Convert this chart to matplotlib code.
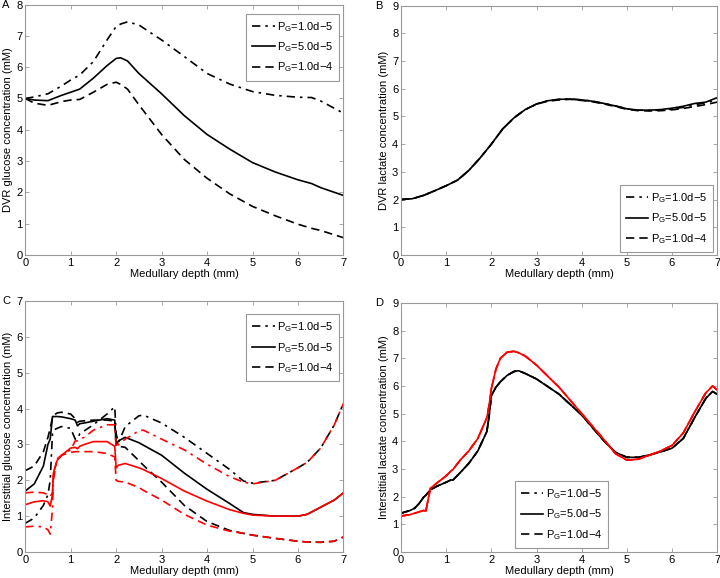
"""
Glucose / lactate concentration profiles along the medulla (4 panels)
"""

import matplotlib
matplotlib.use('Agg')
import matplotlib.pyplot as plt

plt.rcParams['font.family'] = ['Liberation Sans', 'DejaVu Sans']
plt.rcParams['mathtext.default'] = 'regular'
plt.rcParams['font.size'] = 8

legend_labels = ['P$_G$=1.0d\u22125', 'P$_G$=5.0d\u22125', 'P$_G$=1.0d\u22124']

# Panel A: DVR glucose
a_x = [0, 0.2, 0.5, 0.8, 1.0, 1.2, 1.5, 1.8, 2.0, 2.1, 2.25, 2.5, 3, 3.5, 4, 4.5, 5, 5.5, 6, 6.3, 6.5, 7]
a_dashdot = [5.0, 5.05, 5.15, 5.4, 5.59, 5.75, 6.18, 6.87, 7.3, 7.38, 7.45, 7.35, 6.87, 6.34, 5.8,
             5.46, 5.22, 5.1, 5.04, 5.03, 4.92, 4.53]
a_solid = [5.0, 4.95, 4.93, 5.1, 5.2, 5.3, 5.65, 6.05, 6.28, 6.3, 6.2, 5.8, 5.15, 4.45, 3.85,
           3.38, 2.95, 2.65, 2.4, 2.28, 2.15, 1.9]
a_dashed = [5.0, 4.85, 4.78, 4.9, 4.95, 4.97, 5.2, 5.45, 5.52, 5.45, 5.3, 4.8, 3.85, 3.05, 2.45,
            1.95, 1.55, 1.25, 0.98, 0.85, 0.78, 0.55]

# Panel B: DVR lactate
b_x = [0, 0.25, 0.5, 0.75, 1.0, 1.25, 1.5, 1.75, 2.0, 2.25, 2.5, 2.75, 3.0, 3.25, 3.5, 3.75, 4.0,
       4.25, 4.5, 4.75, 5.0, 5.25, 5.5, 5.75, 6.0, 6.25, 6.5, 6.75, 7.0]
b_dashdot = [2.0, 2.03, 2.15, 2.32, 2.5, 2.7, 3.05, 3.5, 4.0, 4.55, 4.95, 5.25, 5.45, 5.57, 5.62,
             5.63, 5.6, 5.55, 5.47, 5.38, 5.28, 5.23, 5.22, 5.23, 5.27, 5.33, 5.42, 5.5, 5.6]
b_solid = [2.0, 2.03, 2.15, 2.32, 2.5, 2.7, 3.05, 3.5, 4.0, 4.55, 4.95, 5.25, 5.45, 5.57, 5.62,
           5.63, 5.6, 5.55, 5.47, 5.38, 5.28, 5.23, 5.23, 5.25, 5.3, 5.37, 5.47, 5.52, 5.68]
b_dashed = [2.0, 2.03, 2.15, 2.32, 2.5, 2.7, 3.05, 3.5, 4.0, 4.55, 4.95, 5.25, 5.45, 5.55, 5.6,
            5.62, 5.58, 5.53, 5.45, 5.36, 5.26, 5.21, 5.2, 5.21, 5.24, 5.29, 5.36, 5.43, 5.52]

# Panel C: interstitial glucose (black and red runs)
c_x = [0, 0.2, 0.4, 0.5, 0.55, 0.6, 0.62, 0.7, 0.8, 1.0, 1.1, 1.15, 1.2, 1.3, 1.5, 1.8, 1.97,
       2.0, 2.05, 2.2, 2.5, 2.6, 3.0, 3.5, 4.0, 4.5, 4.8, 5.0, 5.5, 6.0, 6.2, 6.5, 6.8, 7.0]
c_black_dashdot = [0.8, 0.95, 1.3, 1.6, 2.0, 3.3, 3.4, 3.45, 3.5, 3.45, 3.15, 3.15, 3.3, 3.38, 3.55,
                   3.85, 4.05, 3.3, 3.05, 3.5, 3.8, 3.82, 3.6, 3.2, 2.75, 2.3, 1.98, 1.92, 2.0, 2.35,
                   2.5, 2.9, 3.55, 4.15]
c_black_solid = [1.7, 1.9, 2.4, 3.0, 3.15, 3.78, 3.78, 3.78, 3.77, 3.72, 3.68, 3.52, 3.58, 3.6, 3.65,
                 3.72, 3.68, 2.98, 3.1, 3.2, 3.05, 2.98, 2.7, 2.2, 1.75, 1.35, 1.1, 1.05, 1.0, 1.0,
                 1.05, 1.25, 1.45, 1.65]
c_black_dashed = [2.27, 2.4, 2.8, 3.2, 3.45, 3.75, 3.8, 3.88, 3.9, 3.85, 3.72, 3.62, 3.65, 3.66, 3.68,
                  3.68, 3.65, 3.0, 2.95, 2.92, 2.55, 2.42, 1.95, 1.3, 0.85, 0.6, 0.52, 0.47, 0.38, 0.3,
                  0.28, 0.27, 0.3, 0.42]
c_red_dashdot = [0.7, 0.72, 0.7, 0.62, 0.5, 1.2, 2.0, 2.6, 2.7, 2.85, 3.1, 3.1, 3.15, 3.2, 3.4,
                 3.55, 3.55, 2.9, 3.0, 3.15, 3.38, 3.4, 3.15, 2.85, 2.45, 2.1, 1.95, 1.9, 2.0, 2.35,
                 2.5, 2.9, 3.55, 4.15]
c_red_solid = [1.32, 1.4, 1.43, 1.4, 1.28, 1.6, 2.2, 2.55, 2.7, 2.9, 2.92, 2.88, 2.95, 3.0, 3.08,
               3.08, 2.95, 2.35, 2.42, 2.47, 2.35, 2.3, 2.05, 1.7, 1.42, 1.18, 1.08, 1.03, 1.0, 1.0,
               1.05, 1.25, 1.45, 1.65]
c_red_dashed = [1.65, 1.67, 1.65, 1.6, 1.55, 1.65, 2.2, 2.55, 2.7, 2.78, 2.8, 2.8, 2.8, 2.8, 2.8,
                2.75, 2.65, 2.0, 1.97, 1.95, 1.8, 1.72, 1.45, 1.05, 0.75, 0.58, 0.52, 0.47, 0.38, 0.3,
                0.28, 0.27, 0.3, 0.42]

# Panel D: interstitial lactate (three P_G values nearly overlap)
d_x = [0, 0.2, 0.3, 0.4, 0.5, 0.55, 0.6, 0.65, 0.8, 1.0, 1.1, 1.15, 1.3, 1.5, 1.7, 1.9, 1.95, 2.0,
       2.1, 2.2, 2.35, 2.5, 2.6, 2.75, 3.0, 3.5, 4.0, 4.5, 4.75, 5.0, 5.25, 5.5, 5.75, 6.0, 6.25,
       6.5, 6.75, 6.9, 7.0]
d_black = [1.4, 1.5, 1.58, 1.75, 1.98, 2.05, 2.15, 2.25, 2.38, 2.52, 2.6, 2.6, 2.85, 3.2, 3.65,
           4.35, 4.9, 5.65, 5.95, 6.15, 6.38, 6.52, 6.55, 6.45, 6.25, 5.7, 4.95, 4.0, 3.6, 3.42,
           3.42, 3.5, 3.62, 3.75, 4.1, 4.85, 5.55, 5.8, 5.7]
d_red = [1.3, 1.35, 1.4, 1.45, 1.5, 1.48, 1.9, 2.3, 2.5, 2.75, 2.92, 2.98, 3.3, 3.65, 4.1, 4.85,
         5.3, 5.9, 6.6, 7.0, 7.22, 7.25, 7.2, 7.08, 6.75, 5.95, 5.0, 4.05, 3.55, 3.32, 3.35, 3.5,
         3.65, 3.85, 4.3, 5.05, 5.75, 6.0, 5.85]

styles = [dict(linestyle=(0, (5, 3, 1.5, 3))), dict(linestyle='-'), dict(linestyle=(0, (5, 3)))]
lw = 1.2

fig = plt.figure(figsize=(7.2, 5.78), dpi=100)
ax_a = fig.add_axes([0.035, 0.559, 0.442, 0.433])
ax_b = fig.add_axes([0.557, 0.559, 0.439, 0.431])
ax_c = fig.add_axes([0.035, 0.045, 0.442, 0.434])
ax_d = fig.add_axes([0.557, 0.045, 0.439, 0.431])


def style_axes(ax, ymax, ylabel):
    ax.set_xlim(0, 7)
    ax.set_ylim(0, ymax)
    ax.set_xticks(range(0, 8))
    ax.set_yticks(range(0, ymax + 1))
    ax.set_xlabel('Medullary depth (mm)', labelpad=1)
    ax.set_ylabel(ylabel, labelpad=2)
    ax.tick_params(direction='in', length=3, width=0.6, top=True, right=True,
                   color='#999999', labelsize=8, pad=2)
    for s in ax.spines.values():
        s.set_color('#999999')
        s.set_linewidth(0.8)


def add_legend(ax, anchor):
    leg = ax.legend(loc='upper left', bbox_to_anchor=anchor, fontsize=8, handlelength=2.0,
                    handletextpad=0.2, labelspacing=0.6, borderpad=0.55, fancybox=False,
                    framealpha=1, borderaxespad=0)
    leg.get_frame().set_edgecolor('#999999')
    leg.get_frame().set_linewidth(0.8)


# A
for y, st, lab in zip([a_dashdot, a_solid, a_dashed], styles, legend_labels):
    ax_a.plot(a_x, y, color='black', lw=lw, label=lab, **st)
style_axes(ax_a, 8, 'DVR glucose concentration (mM)')
add_legend(ax_a, (0.695, 0.964))

# B
for y, st, lab in zip([b_dashdot, b_solid, b_dashed], styles, legend_labels):
    ax_b.plot(b_x, y, color='black', lw=lw, label=lab, **st)
style_axes(ax_b, 9, 'DVR lactate concentration (mM)')
add_legend(ax_b, (0.693, 0.281))

# C
for y, st, lab in zip([c_black_dashdot, c_black_solid, c_black_dashed], styles, legend_labels):
    ax_c.plot(c_x, y, color='black', lw=lw, label=lab, **st)
for y, st in zip([c_red_dashdot, c_red_solid, c_red_dashed], styles):
    ax_c.plot(c_x, y, color='red', lw=lw, **st)
style_axes(ax_c, 7, 'Interstitial glucose concentration (mM)')
add_legend(ax_c, (0.695, 0.948))

# D
for st, lab in zip(styles, legend_labels):
    ax_d.plot(d_x, d_black, color='black', lw=lw, label=lab, **st)
for st in styles:
    ax_d.plot(d_x, d_red, color='red', lw=lw, **st)
style_axes(ax_d, 9, 'Interstitial lactate concentration (mM)')
add_legend(ax_d, (0.361, 0.285))

for lab, x, y in [('A', 0.003, 0.991), ('B', 0.521, 0.989), ('C', 0.003, 0.479), ('D', 0.521, 0.476)]:
    fig.text(x, y, lab, fontsize=8, va='center', ha='left')

fig.savefig('out.png', dpi=100)
